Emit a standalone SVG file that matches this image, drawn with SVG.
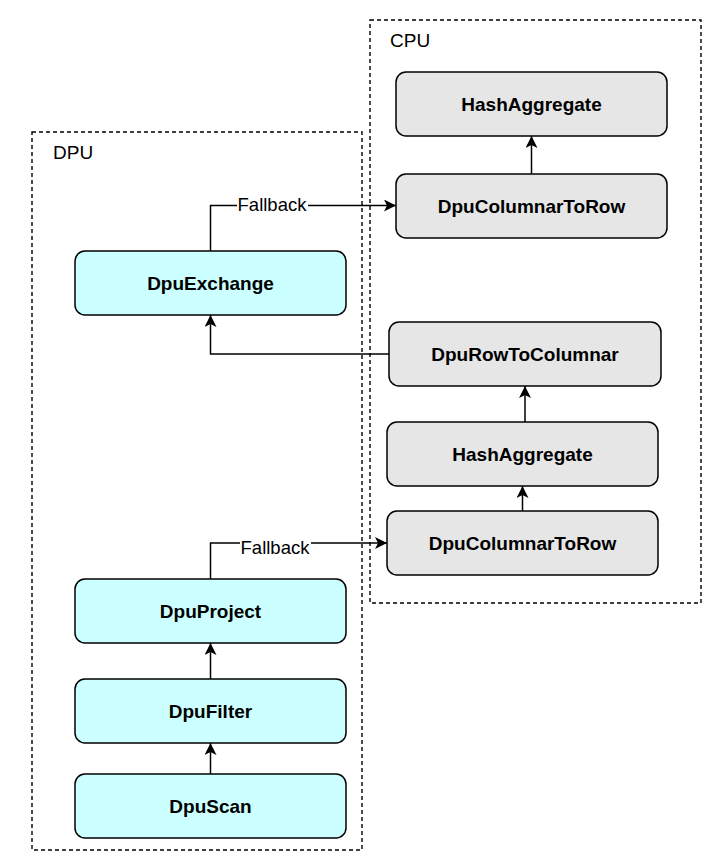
<svg xmlns="http://www.w3.org/2000/svg" width="720" height="865" viewBox="0 0 720 865">
<style>
.bg{fill:#ffffff}
.cont{fill:none;stroke:#000;stroke-width:1.4;stroke-dasharray:4 3}
.ctitle{font-family:"Liberation Sans",Arial,sans-serif;font-size:19px;fill:#000}
.dpu rect{fill:#ccffff;stroke:#000;stroke-width:1.5}
.cpu rect{fill:#e6e6e6;stroke:#000;stroke-width:1.5}
.node text{font-family:"Liberation Sans",Arial,sans-serif;font-size:19px;font-weight:bold;fill:#000;text-anchor:middle}
.edge{fill:none;stroke:#000;stroke-width:1.5;marker-end:url(#arr)}
.lbl{font-family:"Liberation Sans",Arial,sans-serif;font-size:18.5px;fill:#000;text-anchor:middle}
.lblbg{fill:#fff}
</style>
<defs>
<marker id="arr" viewBox="0 0 10 10" refX="10" refY="5" markerWidth="12" markerHeight="12" markerUnits="userSpaceOnUse" orient="auto">
<path d="M0,0 L10,5 L0,10 L2.5,5 Z" fill="#000"/>
</marker>
</defs>
<rect class="bg" x="0" y="0" width="720" height="865"/>
<g id="cpu-container">
<rect class="cont" x="370" y="20" width="331" height="583"/>
<text class="ctitle" x="390" y="47">CPU</text>
</g>
<g id="dpu-container">
<rect class="cont" x="32" y="132" width="330" height="718"/>
<text class="ctitle" x="53" y="159">DPU</text>
</g>
<g id="connectors">
<line class="edge" x1="531.5" y1="174" x2="531.5" y2="136"/>
<line class="edge" x1="525" y1="422" x2="525" y2="386"/>
<line class="edge" x1="522.5" y1="511" x2="522.5" y2="486"/>
<line class="edge" x1="210.5" y1="679" x2="210.5" y2="643"/>
<line class="edge" x1="210.5" y1="774" x2="210.5" y2="743"/>
<polyline class="edge" points="389,354 210.5,354 210.5,315"/>
<polyline class="edge" points="210.5,251 210.5,205.5 396,205.5"/>
<polyline class="edge" points="210.5,579 210.5,543 387,543"/>
<rect class="lblbg" x="237" y="196" width="71" height="18"/>
<text class="lbl" x="272" y="211">Fallback</text>
<rect class="lblbg" x="240" y="539" width="71" height="17"/>
<text class="lbl" x="275" y="554">Fallback</text>
</g>
<g id="cpu-hashaggregate-top" class="node cpu">
<rect x="396" y="72" width="271" height="64" rx="10"/>
<text x="531.5" y="111">HashAggregate</text>
</g>
<g id="cpu-columnartorow-top" class="node cpu">
<rect x="396" y="174" width="271" height="64" rx="10"/>
<text x="531.5" y="213">DpuColumnarToRow</text>
</g>
<g id="cpu-rowtocolumnar" class="node cpu">
<rect x="389" y="322" width="272" height="64" rx="10"/>
<text x="525" y="361">DpuRowToColumnar</text>
</g>
<g id="cpu-hashaggregate-bottom" class="node cpu">
<rect x="387" y="422" width="271" height="64" rx="10"/>
<text x="522.5" y="461">HashAggregate</text>
</g>
<g id="cpu-columnartorow-bottom" class="node cpu">
<rect x="387" y="511" width="271" height="64" rx="10"/>
<text x="522.5" y="550">DpuColumnarToRow</text>
</g>
<g id="dpu-exchange" class="node dpu">
<rect x="75" y="251" width="271" height="64" rx="10"/>
<text x="210.5" y="290">DpuExchange</text>
</g>
<g id="dpu-project" class="node dpu">
<rect x="75" y="579" width="271" height="64" rx="10"/>
<text x="210.5" y="618">DpuProject</text>
</g>
<g id="dpu-filter" class="node dpu">
<rect x="75" y="679" width="271" height="64" rx="10"/>
<text x="210.5" y="718">DpuFilter</text>
</g>
<g id="dpu-scan" class="node dpu">
<rect x="75" y="774" width="271" height="64" rx="10"/>
<text x="210.5" y="813">DpuScan</text>
</g>
</svg>
